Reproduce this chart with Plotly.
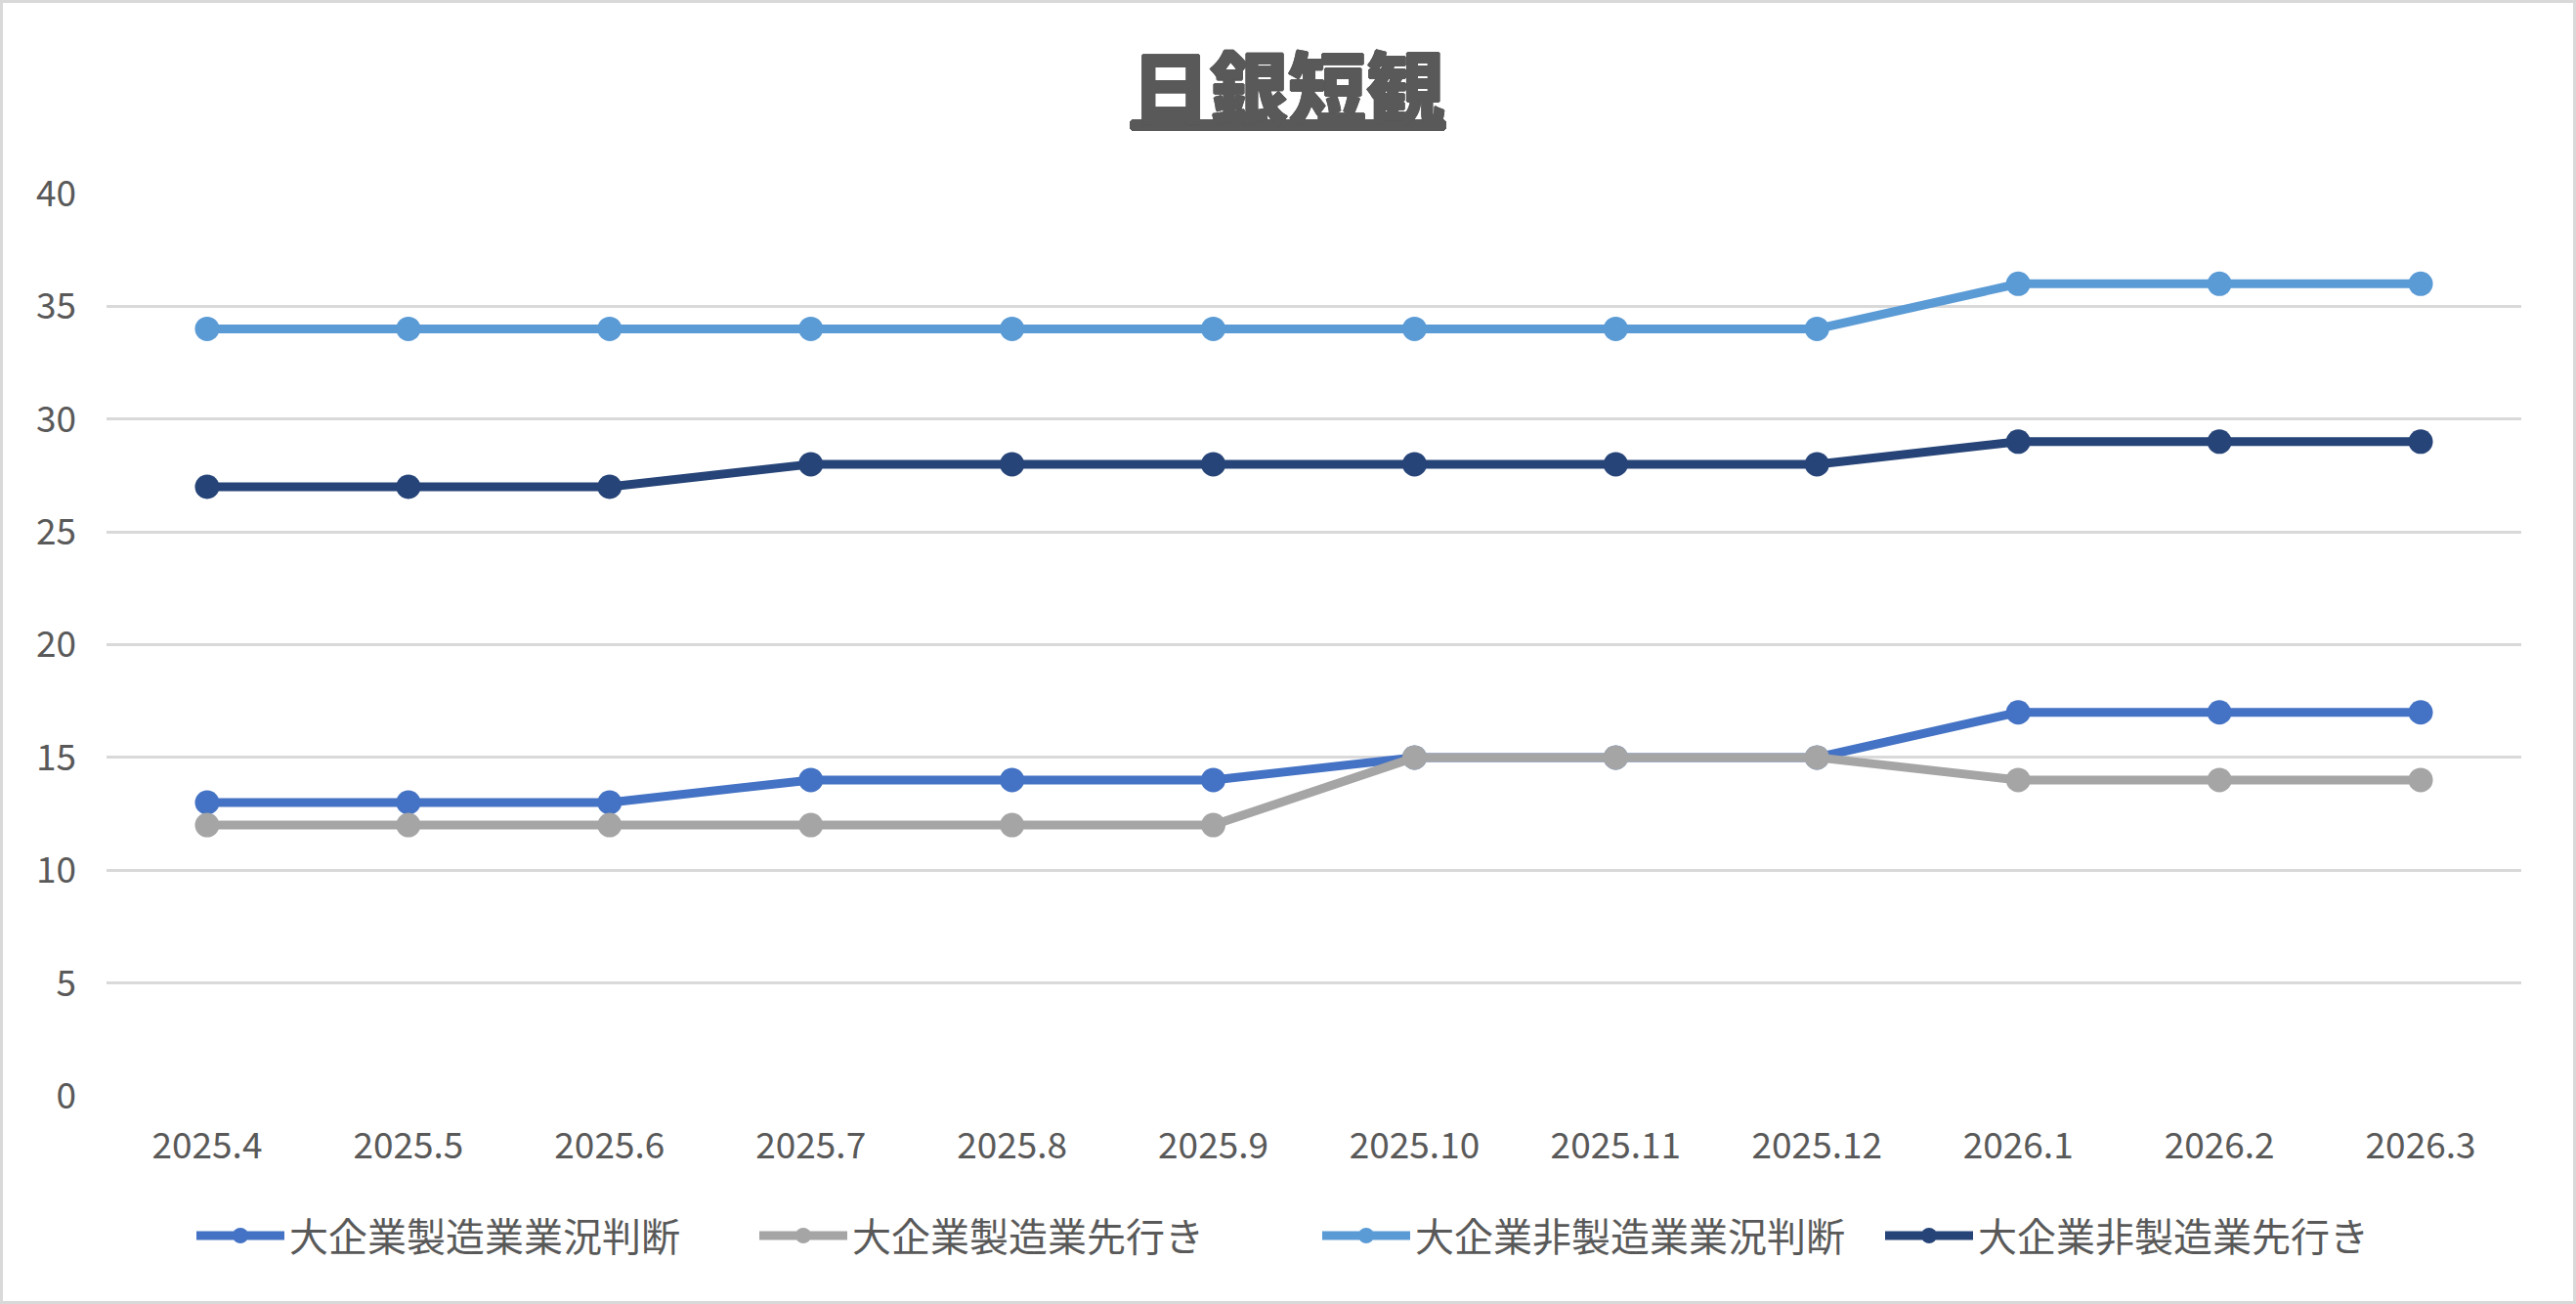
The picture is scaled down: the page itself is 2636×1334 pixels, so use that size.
import plotly.graph_objects as go

months = ["2025.4", "2025.5", "2025.6", "2025.7", "2025.8", "2025.9",
          "2025.10", "2025.11", "2025.12", "2026.1", "2026.2", "2026.3"]
mfg_current = [13, 13, 13, 14, 14, 14, 15, 15, 15, 17, 17, 17]
mfg_outlook = [12, 12, 12, 12, 12, 12, 15, 15, 15, 14, 14, 14]
nonmfg_current = [34, 34, 34, 34, 34, 34, 34, 34, 34, 36, 36, 36]
nonmfg_outlook = [27, 27, 27, 28, 28, 28, 28, 28, 28, 29, 29, 29]

series_names = ["大企業製造業業況判断", "大企業製造業先行き", "大企業非製造業業況判断", "大企業非製造業先行き"]
series_values = [mfg_current, mfg_outlook, nonmfg_current, nonmfg_outlook]
colors = ["#4472C4", "#A5A5A5", "#5B9BD5", "#264478"]

W, H = 2636, 1334
ML, MR, MT, MB = 109, 56, 198, 213
PW, PH = W - ML - MR, H - MT - MB

FONT = "Noto Sans CJK JP"
TXT = "#595959"

fig = go.Figure()
for name, vals, c in zip(series_names, series_values, colors):
    fig.add_trace(go.Scatter(
        x=months, y=vals, name=name, mode="lines+markers",
        line=dict(color=c, width=9),
        marker=dict(color=c, size=25),
    ))

title_shadow = ", ".join(f"{dx}px {dy}px 0 {TXT}" for dx, dy in
                         [(1, 0), (-1, 0), (0, 1), (0, -1)])

fig.update_layout(
    width=W, height=H,
    margin=dict(l=ML, r=MR, t=MT, b=MB, autoexpand=False),
    paper_bgcolor="white", plot_bgcolor="white",
    font=dict(family=FONT, color=TXT, size=37),
    title=dict(
        text="日銀短観",
        x=1318 / W, xanchor="center", xref="container",
        y=1 - 92 / H, yanchor="middle", yref="container",
        font=dict(family=FONT, size=80, color=TXT, weight=900,
                  lineposition="under", shadow=title_shadow),
    ),
    xaxis=dict(
        type="category", range=[-0.5, len(months) - 0.5],
        showgrid=False, zeroline=False, showline=False,
        tickfont=dict(size=37, color=TXT), ticks="", ticklabelstandoff=26,
        automargin=False,
    ),
    yaxis=dict(
        range=[0, 40], tickvals=[0, 5, 10, 15, 20, 25, 30, 35, 40],
        showgrid=True, gridcolor="#D9D9D9", gridwidth=3,
        zeroline=False, showline=False, ticks="",
        tickfont=dict(size=37, color=TXT), ticklabelstandoff=30,
        automargin=False,
    ),
    legend=dict(
        orientation="h", xref="container", yref="container",
        x=1348 / W, xanchor="center", y=1 - 1264 / H, yanchor="middle",
        font=dict(size=40, color=TXT), itemwidth=90, tracegroupgap=0,
        entrywidth=471, entrywidthmode="pixels",
    ),
    shapes=[dict(
        type="rect", xref="paper", yref="paper",
        x0=(1.5 - ML) / PW, x1=(W - 1.5 - ML) / PW,
        y0=-(MB - 1.5) / PH, y1=1 + (MT - 1.5) / PH,
        line=dict(color="#D9D9D9", width=3), fillcolor="rgba(0,0,0,0)", layer="below",
    )],
)

fig.write_html("out.html", config={"displayModeBar": False},
               post_script="document.body.style.margin='0';")
